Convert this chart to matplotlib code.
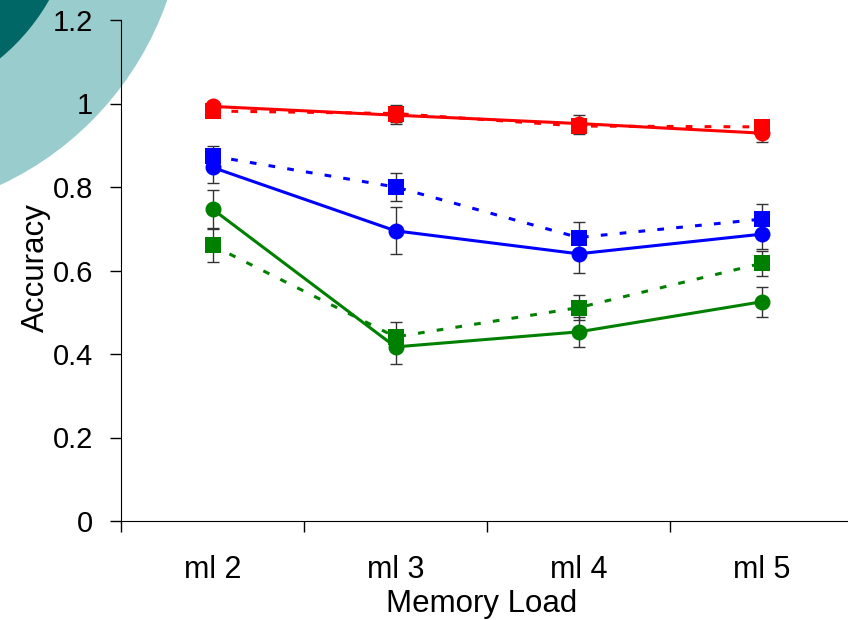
import matplotlib.pyplot as plt
from matplotlib.patches import Circle

plt.rcParams["font.family"] = ["Liberation Sans", "DejaVu Sans"]

loads = ["ml 2", "ml 3", "ml 4", "ml 5"]

red_circle = [0.993, 0.972, 0.952, 0.929]
red_circle_err = [0.01, 0.02, 0.02, 0.022]
red_square = [0.982, 0.976, 0.946, 0.944]
red_square_err = [0.01, 0.02, 0.018, 0.016]

blue_circle = [0.847, 0.695, 0.640, 0.687]
blue_circle_err = [0.037, 0.056, 0.045, 0.036]
blue_square = [0.874, 0.800, 0.679, 0.723]
blue_square_err = [0.025, 0.033, 0.038, 0.036]

green_circle = [0.747, 0.417, 0.453, 0.525]
green_circle_err = [0.045, 0.040, 0.036, 0.036]
green_square = [0.660, 0.441, 0.511, 0.617]
green_square_err = [0.040, 0.035, 0.030, 0.030]

fig = plt.figure(figsize=(8.48, 6.2), dpi=100)

# slide decoration behind the chart
bg = fig.add_axes([0, 0, 1, 1], zorder=0)
bg.set_xlim(0, 848)
bg.set_ylim(620, 0)
bg.axis("off")
bg.add_patch(Circle((-135, -105), 320, color="#99cccc", lw=0))
bg.add_patch(Circle((-135, -105), 212, color="#006666", lw=0))

ax = fig.add_axes([121 / 848, 99 / 620, 732 / 848, 501 / 620], zorder=1)
ax.set_facecolor("none")

x = list(range(len(loads)))

series = [
    (red_square, red_square_err, "red", "s", (0, (2.2, 4))),
    (red_circle, red_circle_err, "red", "o", "-"),
    (blue_square, blue_square_err, "blue", "s", (0, (2.2, 4))),
    (blue_circle, blue_circle_err, "blue", "o", "-"),
    (green_square, green_square_err, "green", "s", (0, (2.2, 4))),
    (green_circle, green_circle_err, "green", "o", "-"),
]

for vals, err, color, marker, ls in series:
    ax.errorbar(x, vals, yerr=err, fmt="none", ecolor="#333333",
                elinewidth=1, capsize=4, capthick=1, zorder=2)

for vals, err, color, marker, ls in series:
    ms = 11.5 if marker == "o" else 11
    ax.plot(x, vals, color=color, linestyle=ls, linewidth=2.2,
            marker=marker, markersize=ms, markeredgewidth=0, zorder=3)

ax.set_xlim(-0.5, 3.5)
ax.set_ylim(0, 1.2)

ax.set_yticks([0, 0.2, 0.4, 0.6, 0.8, 1.0, 1.2])
ax.set_yticklabels(["0", "0.2", "0.4", "0.6", "0.8", "1", "1.2"])
ax.tick_params(axis="y", direction="out", length=8, width=1,
               labelsize=21, pad=12)

# category boundaries get ticks, centers get labels
ax.set_xticks([-0.5, 0.5, 1.5, 2.5, 3.5])
ax.set_xticklabels([])
ax.set_xticks(x, minor=True)
ax.set_xticklabels(loads, minor=True)
ax.tick_params(axis="x", which="major", direction="out", length=8, width=1)
ax.tick_params(axis="x", which="minor", length=0, labelsize=22, pad=24.5)

ax.spines["top"].set_visible(False)
ax.spines["right"].set_visible(False)

ax.set_xlabel("Memory Load", fontsize=22.5)
ax.xaxis.set_label_coords((482 - 121) / 732, -(611.7 - 521) / 501)
ax.xaxis.label.set_va("baseline")
ax.set_ylabel("Accuracy", fontsize=22.5)
ax.yaxis.set_label_coords(-(121 - 43.5) / 732, (521 - 267.5) / 501)
ax.yaxis.label.set_va("baseline")

fig.savefig("out.png", dpi=100)
